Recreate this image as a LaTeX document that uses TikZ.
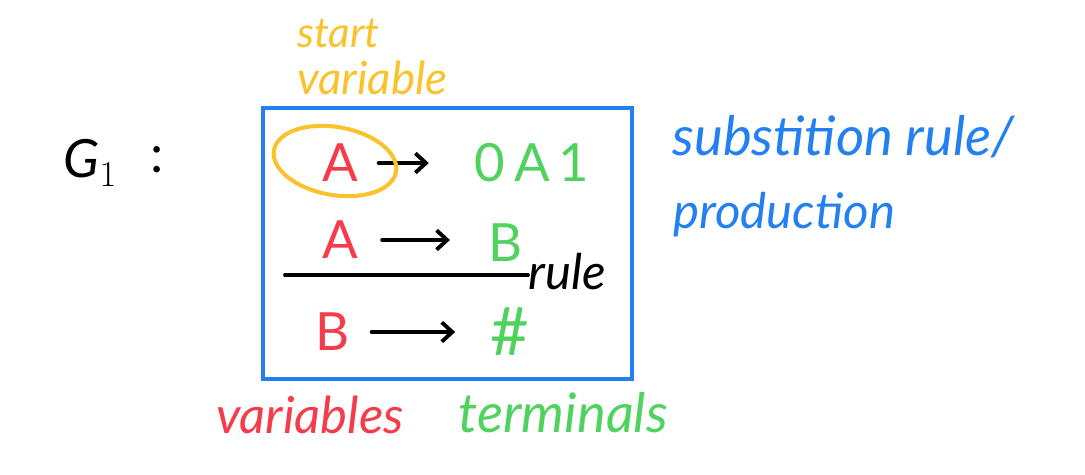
\documentclass[tikz,border=0pt]{standalone}
\usepackage{fontspec}
\setmainfont{Lato}
\usetikzlibrary{arrows.meta}
\definecolor{hblue}{RGB}{35,128,240}
\definecolor{hred}{RGB}{245,60,75}
\definecolor{hgreen}{RGB}{80,210,95}
\definecolor{hyellow}{RGB}{250,195,45}
\tikzset{
  hand/.style={font=\fontsize{26}{30}\selectfont\itshape, inner sep=0pt},
  big/.style={font=\fontsize{30}{34}\selectfont, inner sep=0pt},
  harrow/.style={draw=black, line width=2.2pt, line cap=round, -{Straight Barb[length=6pt,width=11pt,line width=2.2pt]}},
}
\begin{document}
\begin{tikzpicture}[x=0.02cm,y=-0.02cm]
\useasboundingbox (0,0) rectangle (1085,474);
% G1
\node[big] (g) at (95,163) {$\mathit{G}_1$\,};
\node[big] (colon) at (157,160) {:};
% start variable
\node[hand, font=\fontsize{24}{28}\selectfont\itshape, text=hyellow, anchor=west] (st) at (297,34) {start};
\node[hand, text=hyellow, anchor=west] (sv) at (297,78) {variable};
% box
\node[draw=hblue, line width=2.3pt, minimum width=369*0.02cm, minimum height=271*0.02cm, inner sep=0pt] (box) at (447.5,243.5) {};
% rows
\node[big, text=hred] (a1) at (340,163) {A};
\node[big, text=hgreen] (t1) at (532,163) {0\,A\,1};
\node[big, text=hred] (a2) at (340,240) {A};
\node[big, text=hgreen] (t2) at (506,243) {B};
\node[big, text=hred] (b3) at (333,332) {B};
\node[big, font=\fontsize{38}{40}\selectfont, text=hgreen] (t3) at (510,332) {\#};
\draw[harrow, shorten <=22pt, shorten >=26pt] (a1.center) -- (t1.west |- a1.center);
\draw[harrow, shorten <=24pt, shorten >=22pt] (a2.center) -- (t2.west |- a2.center);
\draw[harrow, shorten <=22pt, shorten >=20pt] (b3.center) -- (t3.west |- b3.center);
% yellow ellipse
\draw[hyellow, line width=2.3pt, rotate around={-10:(335,161)}] (335,161) ellipse [x radius=62, y radius=34];
% rule line
\coordinate (l0) at (285,275);
\node[hand, font=\fontsize{28}{32}\selectfont\itshape, text=black, anchor=west] (rule) at (528,272) {rule};
\draw[line width=2.2pt, line cap=round] (l0) -- (rule.west |- l0);
% bottom labels
\node[hand, font=\fontsize{29}{32}\selectfont\itshape, text=hred] (vars) at (310,415) {variables};
\node[hand, font=\fontsize{31}{34}\selectfont\itshape, text=hgreen] (terms) at (563,413) {terminals};
% right labels
\node[hand, font=\fontsize{31}{34}\selectfont\itshape, text=hblue, anchor=west] (sub) at (672,137) {substition rule/};
\node[hand, font=\fontsize{28}{32}\selectfont\itshape, text=hblue, anchor=west] (prod) at (673,215) {production};
\end{tikzpicture}
\end{document}
